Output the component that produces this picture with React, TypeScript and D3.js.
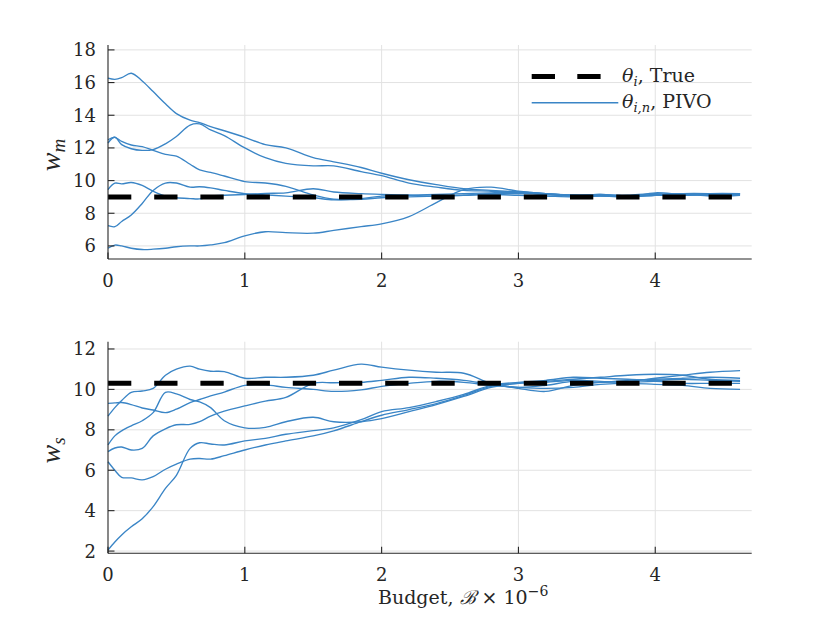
import React from "react";
import * as d3 from "d3";

// Budget (×10^-6) sample positions shared by every run
const budget = [0, 0.05, 0.1, 0.17, 0.25, 0.33, 0.42, 0.5, 0.6, 0.67, 0.75, 0.85, 1.0, 1.15, 1.3, 1.5, 1.65, 1.85, 2.0, 2.2, 2.4, 2.6, 2.8, 3.0, 3.2, 3.4, 3.6, 3.8, 4.0, 4.2, 4.4, 4.62];

// w_m estimates (top panel)
const wmRun1 = [16.27, 16.2, 16.3, 16.57, 16.1, 15.45, 14.7, 14.1, 13.7, 13.55, 13.3, 13.05, 12.65, 12.2, 12.0, 11.4, 11.15, 10.8, 10.45, 10.05, 9.75, 9.5, 9.4, 9.3, 9.2, 9.12, 9.1, 9.05, 9.1, 9.15, 9.1, 9.15];
const wmRun2 = [12.3, 12.65, 12.2, 11.95, 11.85, 11.9, 12.25, 12.7, 13.4, 13.47, 13.1, 12.75, 12.0, 11.4, 11.05, 10.9, 10.9, 10.55, 10.3, 9.85, 9.6, 9.4, 9.35, 9.25, 9.15, 9.1, 9.05, 9.1, 9.2, 9.1, 9.15, 9.2];
const wmRun3 = [12.5, 12.65, 12.4, 12.18, 12.08, 11.85, 11.6, 11.5, 11.0, 10.65, 10.5, 10.28, 9.94, 9.85, 9.65, 9.12, 8.86, 8.85, 8.95, 9.0, 9.05, 9.1, 9.15, 9.1, 9.05, 9.0, 9.05, 9.0, 9.1, 9.2, 9.05, 9.1];
const wmRun4 = [9.45, 9.84, 9.8, 9.88, 9.7, 9.35, 9.05, 8.95, 8.9, 8.88, 9.05, 9.1, 9.15, 9.22, 9.25, 9.5, 9.3, 9.2, 9.15, 9.1, 9.05, 9.1, 9.2, 9.2, 9.15, 9.05, 9.1, 9.0, 9.25, 9.15, 9.15, 9.2];
const wmRun5 = [7.24, 7.18, 7.5, 7.9, 8.6, 9.4, 9.85, 9.85, 9.6, 9.62, 9.55, 9.4, 9.2, 9.13, 9.05, 8.95, 8.82, 8.9, 9.05, 9.1, 9.15, 9.2, 9.25, 9.3, 9.2, 9.1, 9.15, 9.05, 9.1, 9.2, 9.2, 9.15];
const wmRun6 = [5.86, 6.05, 6.0, 5.86, 5.78, 5.8, 5.86, 5.95, 6.0, 6.0, 6.06, 6.2, 6.62, 6.87, 6.81, 6.78, 6.95, 7.18, 7.35, 7.8, 8.65, 9.45, 9.6, 9.35, 9.2, 9.1, 9.15, 9.05, 9.15, 9.1, 9.2, 9.2];

// w_s estimates (bottom panel)
const wsRun1 = [8.68, 9.1, 9.45, 9.85, 9.92, 10.05, 10.7, 11.0, 11.15, 11.0, 10.9, 10.88, 10.55, 10.6, 10.6, 10.7, 10.95, 11.25, 11.1, 10.95, 10.85, 10.8, 10.3, 10.05, 9.9, 10.2, 10.35, 10.4, 10.55, 10.7, 10.85, 10.93];
const wsRun2 = [9.31, 9.33, 9.35, 9.25, 9.08, 8.98, 8.85, 9.02, 9.35, 9.5, 9.68, 9.87, 10.2, 10.22, 10.1, 10.0, 9.9, 9.98, 10.15, 10.3, 10.4, 10.35, 10.2, 10.1, 10.05, 10.1, 10.25, 10.3, 10.25, 10.2, 10.05, 10.0];
const wsRun3 = [6.92, 7.1, 7.15, 7.0, 7.08, 7.7, 8.05, 8.25, 8.27, 8.4, 8.68, 8.92, 9.18, 9.42, 9.6, 10.3, 10.33, 10.35, 10.45, 10.6, 10.55, 10.45, 10.25, 10.1, 10.2, 10.4, 10.35, 10.45, 10.5, 10.55, 10.6, 10.55];
const wsRun4 = [7.25, 7.7, 7.95, 8.2, 8.45, 8.85, 9.85, 9.78, 9.5, 9.38, 9.1, 8.45, 8.1, 8.12, 8.4, 8.62, 8.4, 8.4, 8.55, 8.9, 9.25, 9.65, 10.1, 10.3, 10.35, 10.45, 10.4, 10.35, 10.4, 10.3, 10.3, 10.3];
const wsRun5 = [6.42, 6.0, 5.65, 5.62, 5.52, 5.68, 6.05, 6.3, 6.55, 6.58, 6.55, 6.72, 7.0, 7.25, 7.45, 7.7, 7.95, 8.4, 8.72, 9.0, 9.3, 9.7, 10.15, 10.3, 10.4, 10.5, 10.6, 10.7, 10.75, 10.7, 10.5, 10.45];
const wsRun6 = [2.05, 2.45, 2.8, 3.2, 3.6, 4.2, 5.1, 5.75, 7.08, 7.36, 7.3, 7.25, 7.45, 7.58, 7.78, 7.96, 8.1, 8.5, 8.9, 9.1, 9.4, 9.75, 10.2, 10.35, 10.45, 10.6, 10.55, 10.5, 10.45, 10.5, 10.45, 10.4];

// true parameter values
const trueWm = 9.0;
const trueWs = 10.3;

// ticks
const xTicks = [0, 1, 2, 3, 4];
const wmTicks = [6, 8, 10, 12, 14, 16, 18];
const wsTicks = [2, 4, 6, 8, 10, 12];

const wmRuns = [wmRun1, wmRun2, wmRun3, wmRun4, wmRun5, wmRun6];
const wsRuns = [wsRun1, wsRun2, wsRun3, wsRun4, wsRun5, wsRun6];

const FONT = "'DejaVu Serif', 'Liberation Serif', serif";
const MATH = "'Liberation Serif', 'DejaVu Serif', serif";
const AXIS = "#262626";
const GRID = "#e2e2e2";
const BLUE = "#3a85c6";

const xScale = d3.scaleLinear().domain([0, 4.705]).range([108, 751.7]);

function Panel({ runs, truth, ticks, domain, range, label, sub }: any) {
  const y = d3.scaleLinear().domain(domain).range(range);
  const [yb, yt] = range;
  const x0 = xScale.range()[0];
  const x1 = xScale.range()[1];
  const line = d3
    .line<number>()
    .x((_, i) => xScale(budget[i]))
    .y((v) => y(v))
    .curve(d3.curveCatmullRom.alpha(0.5));
  const tickLen = 6.5;
  const midY = (yb + yt) / 2 + 3;
  return (
    <g>
      {ticks.map((t: number) => (
        <line key={"gy" + t} x1={x0} x2={x1} y1={y(t)} y2={y(t)} stroke={GRID} strokeWidth={1} />
      ))}
      {xTicks.filter((t) => t > 0).map((t) => (
        <line key={"gx" + t} x1={xScale(t)} x2={xScale(t)} y1={yb} y2={yt} stroke={GRID} strokeWidth={1} />
      ))}
      {runs.map((r: number[], i: number) => (
        <path key={"r" + i} d={line(r) || ""} fill="none" stroke={BLUE} strokeWidth={1.35} />
      ))}
      <line
        x1={xScale(0)}
        x2={xScale(4.62)}
        y1={y(truth)}
        y2={y(truth)}
        stroke="#000"
        strokeWidth={5}
        strokeDasharray="23.3 22.9"
      />
      <line x1={x0} x2={x0} y1={yb} y2={yt} stroke={AXIS} strokeWidth={1.1} />
      <line x1={x0} x2={x1} y1={yb} y2={yb} stroke={AXIS} strokeWidth={1.1} />
      {ticks.map((t: number) => (
        <g key={"ty" + t}>
          <line x1={x0} x2={x0 + tickLen} y1={y(t)} y2={y(t)} stroke={AXIS} strokeWidth={1.1} />
          <text x={x0 - 12} y={y(t)} dy="0.36em" textAnchor="end" fontFamily={FONT} fontSize={18} fill={AXIS}>
            {t}
          </text>
        </g>
      ))}
      {xTicks.map((t) => (
        <g key={"tx" + t}>
          <line x1={xScale(t)} x2={xScale(t)} y1={yb} y2={yb - tickLen} stroke={AXIS} strokeWidth={1.1} />
          <text x={xScale(t)} y={yb + 28} textAnchor="middle" fontFamily={FONT} fontSize={18} fill={AXIS}>
            {t}
          </text>
        </g>
      ))}
      <text
        transform={`translate(60,${midY}) rotate(-90)`}
        textAnchor="middle"
        fontFamily={MATH}
        fontSize={28}
        fontStyle="italic"
        fill={AXIS}
      >
        {label}
        <tspan fontSize={19} dy={5}>{sub}</tspan>
      </text>
    </g>
  );
}

export default function App() {
  return (
    <svg
      width={830}
      height={623}
      style={{ position: "absolute", left: 0, top: 0, background: "#fff" }}
    >
      <rect x={0} y={0} width={830} height={623} fill="#fff" />
      <Panel runs={wmRuns} truth={trueWm} ticks={wmTicks} domain={[5.2, 18.3]} range={[259, 45]} label="w" sub="m" />
      <Panel runs={wsRuns} truth={trueWs} ticks={wsTicks} domain={[1.89, 12.36]} range={[553.3, 341.7]} label="w" sub="s" />

      {/* legend */}
      <line x1={531.7} x2={601} y1={76.5} y2={76.5} stroke="#000" strokeWidth={5} strokeDasharray="23.3 22.3" />
      <text x={622} y={82} fontFamily={FONT} fontSize={19} fill={AXIS}>
        <tspan fontStyle="italic">θ</tspan>
        <tspan fontStyle="italic" fontSize={13} dy={4}>i</tspan>
        <tspan dy={-4}>, True</tspan>
      </text>
      <line x1={531.7} x2={618.3} y1={102.7} y2={102.7} stroke={BLUE} strokeWidth={1.35} />
      <text x={622} y={108} fontFamily={FONT} fontSize={19} fill={AXIS}>
        <tspan fontStyle="italic">θ</tspan>
        <tspan fontStyle="italic" fontSize={13} dy={4}>i,n</tspan>
        <tspan dy={-4}>, PIVO</tspan>
      </text>

      {/* x label */}
      <text x={378} y={604} fontFamily={FONT} fontSize={19} fill={AXIS}>
        Budget,{" "}
        <tspan fontStyle="italic">ℬ</tspan>
        {" × 10"}
        <tspan fontSize={14} dy={-8}>−6</tspan>
      </text>
    </svg>
  );
}
